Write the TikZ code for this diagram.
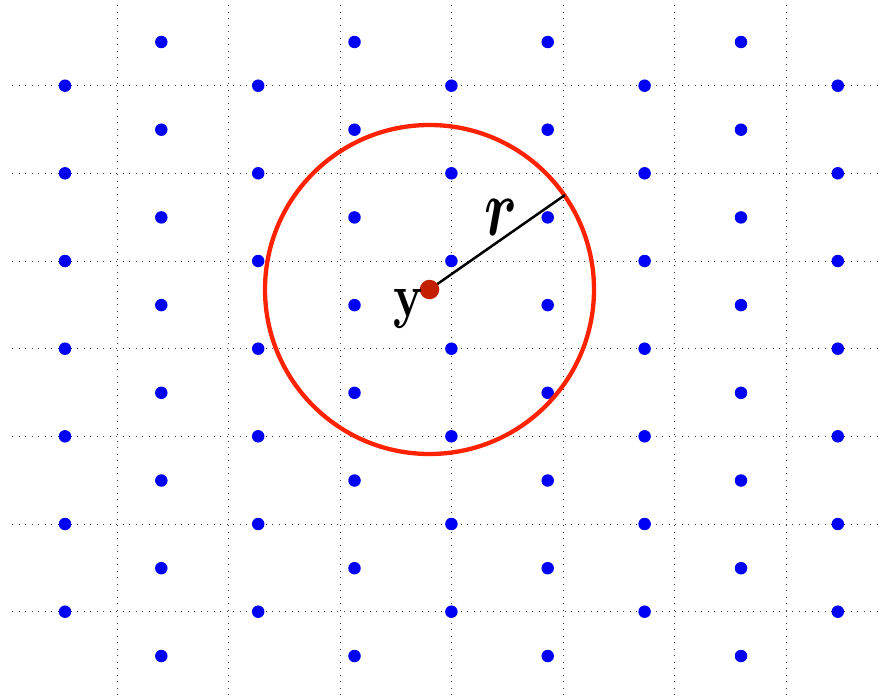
\documentclass[tikz,border=0pt]{standalone}
\usepackage{graphicx}
\usepackage{bm}
\definecolor{lattice}{RGB}{0,0,245}
\definecolor{ringred}{RGB}{255,34,0}
\definecolor{centerred}{RGB}{196,32,0}
\tikzset{
  gridline/.style={black!75, line width=0.75pt, dash pattern=on 0.9pt off 5.6pt},
  latdot/.style={circle, fill=lattice, inner sep=0pt, minimum size=12.5pt},
  ring/.style={draw=ringred, line width=4.3pt},
  radius line/.style={black, line width=2.5pt},
}
\begin{document}
\begin{tikzpicture}[x=1pt,y=-1pt]
\useasboundingbox (0,0) rectangle (883,696);
% grid
\foreach \gx [count=\i] in {117,228.5,340,451.5,563,674.5,786}
  \draw[gridline] (\gx,5) -- (\gx,696);
\foreach \gy [count=\i] in {85.7,173.3,261,348.7,436.3,524,611.7}
  \draw[gridline] (12,\gy) -- (883,\gy);
% lattice points, set A
\foreach \px [count=\i] in {65,258.2,451.4,644.6,837.8}
  \foreach \py [count=\j] in {85.7,173.3,261,348.7,436.3,524,611.7}
    \node[latdot] (a-\i-\j) at (\px,\py) {};
% lattice points, set B
\foreach \px [count=\i] in {161.3,354.5,547.7,741}
  \foreach \py [count=\j] in {42,129.7,217.4,305.1,392.8,480.5,568.2,656}
    \node[latdot] (b-\i-\j) at (\px,\py) {};
% circle
\coordinate (ctr) at (429.5,289.5);
\draw[ring] (ctr) circle[radius=164.5];
\coordinate (rim) at (565,195);
\draw[radius line] (ctr) -- (rim);
\node[circle, fill=centerred, inner sep=0pt, minimum size=19.5pt] (y) at (ctr) {};
\node[inner sep=0pt, anchor=center] (ylab) at (408,308.5) {\resizebox*{30pt}{39pt}{$\mathbf{y}$}};
\node[inner sep=0pt, anchor=center] (rlab) at (500.5,217) {\resizebox*{33pt}{36pt}{$\bm{r}$}};
\end{tikzpicture}
\end{document}
